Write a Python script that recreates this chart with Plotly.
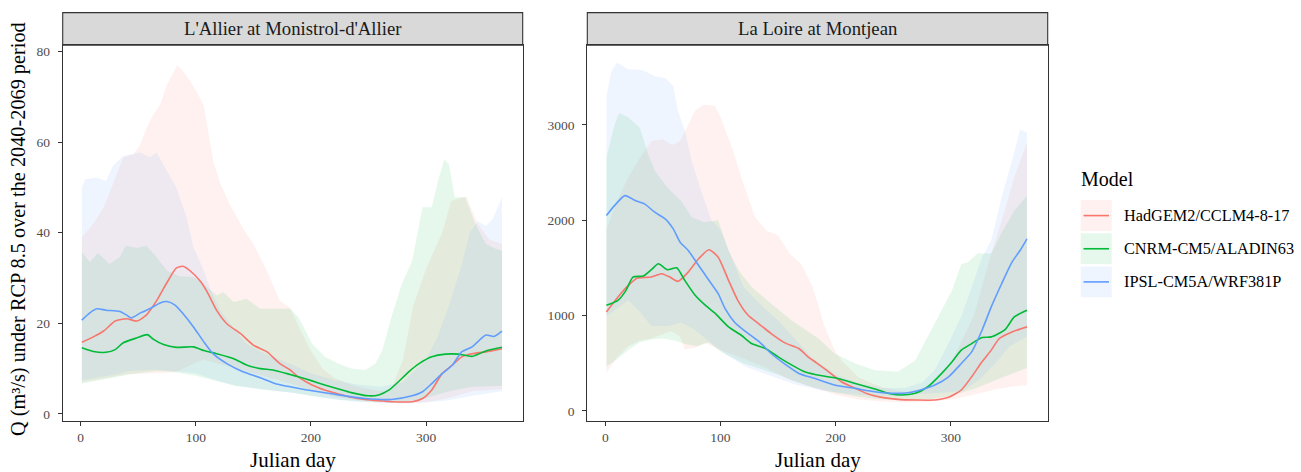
import plotly.graph_objects as go

# ---------------- DATA ----------------
models = ["HadGEM2/CCLM4-8-17", "CNRM-CM5/ALADIN63", "IPSL-CM5A/WRF381P"]
x_ticks = [0, 100, 200, 300]
allier_y_ticks = [0, 20, 40, 60, 80]
loire_y_ticks = [0, 1000, 2000, 3000]
panel_titles = ["L'Allier at Monistrol-d'Allier", "La Loire at Montjean"]

# --- L'Allier at Monistrol-d'Allier : median lines ---
allier_had_days = [1, 11, 20, 30, 40, 49, 57, 66, 75, 83, 89, 95, 104, 110, 118, 127, 139, 150, 162, 173, 182, 189, 201, 212, 224, 235, 247, 259, 270, 288, 297, 305, 314, 323, 331, 340, 352, 366]
allier_had_med = [15.8, 17, 18.3, 20.5, 21, 20.5, 21.8, 25, 29, 32.2, 32.6, 31.6, 29.3, 26.9, 22.9, 19.9, 17.7, 15.2, 13.7, 11.1, 9.7, 8.2, 6.4, 5.3, 4.4, 3.7, 3.2, 2.9, 2.7, 2.7, 3.4, 5.3, 8.9, 10.8, 12.6, 13.3, 13.7, 14.4]
allier_cnrm_days = [1, 11, 22, 30, 37, 49, 58, 63, 72, 83, 98, 107, 118, 133, 144, 156, 167, 182, 189, 201, 212, 224, 235, 250, 259, 268, 276, 285, 294, 305, 317, 328, 340, 352, 366]
allier_cnrm_med = [14.6, 13.8, 13.6, 14.2, 15.7, 16.8, 17.5, 16.5, 15.3, 14.7, 14.8, 14, 13.3, 12.2, 10.8, 10, 9.7, 8.7, 8.2, 7.3, 6.4, 5.5, 4.7, 4.0, 4.2, 5.3, 7.1, 9.3, 11.1, 12.6, 13.2, 13.2, 12.7, 13.9, 14.7]
allier_ipsl_days = [1, 8, 14, 22, 34, 40, 44, 52, 60, 69, 75, 82, 89, 98, 107, 115, 127, 141, 156, 170, 182, 201, 224, 247, 270, 288, 297, 305, 314, 323, 331, 340, 352, 359, 366]
allier_ipsl_med = [20.7, 22.3, 23.2, 22.9, 22.6, 21.8, 21.2, 22.3, 23.2, 24.5, 24.8, 24, 22.1, 19.2, 15.9, 13.3, 11.1, 9.3, 8, 6.6, 6, 5.1, 4.2, 3.4, 3.2, 4, 4.9, 6.7, 8.9, 10.8, 13.7, 14.8, 17.4, 17.1, 18.3]

# --- L'Allier : envelopes (min / max) ---
allier_had_hi_days = [1, 11, 20, 28, 37, 46, 52, 57, 63, 69, 75, 81, 84, 89, 95, 101, 107, 115, 121, 130, 141, 150, 162, 173, 182, 190, 200, 210, 220, 240, 260, 270, 280, 289, 300, 314, 322, 335, 345, 355, 366]
allier_had_hi = [39, 42, 45.6, 50.7, 56.6, 57.3, 59.5, 63, 66, 68.3, 72.7, 75.5, 77, 75.6, 73.5, 71, 68, 56, 51, 46, 41, 37.5, 31.5, 25, 23.4, 19, 14, 10, 8, 6, 5, 5.5, 12, 24, 32, 40, 47, 48, 42, 38.5, 37.5]
allier_had_lo_days = [1, 13, 30, 42, 65, 82, 106, 129, 158, 184, 200, 220, 240, 260, 280, 300, 320, 340, 366]
allier_had_lo = [7, 7.5, 8.3, 8.8, 9.0, 9.2, 12, 10.4, 8.4, 6.6, 5.2, 3.8, 3.0, 2.6, 2.4, 2.6, 3.5, 5, 5.5]
allier_cnrm_hi_days = [1, 8, 15, 25, 34, 39, 49, 57, 66, 75, 86, 98, 107, 118, 124, 133, 144, 156, 182, 189, 195, 201, 212, 224, 235, 247, 256, 262, 270, 279, 288, 297, 305, 311, 316, 320, 325, 334, 343, 352, 360, 366]
allier_cnrm_hi = [35.7, 33.5, 35.5, 33.1, 34.6, 37.1, 36.6, 37.1, 34.6, 31.6, 30.4, 30.2, 28.7, 26.2, 26.9, 24.7, 25.4, 23.2, 23.2, 21.4, 18.5, 15.5, 12.6, 11.1, 10, 9.7, 11.1, 14, 21.4, 28.7, 33.8, 45.6, 45.6, 52, 56.2, 55, 47.8, 47.8, 41.9, 37.5, 36.5, 36]
allier_cnrm_lo_days = [1, 13, 30, 42, 65, 80, 100, 117, 134, 158, 184, 200, 220, 240, 260, 280, 300, 320, 340, 366]
allier_cnrm_lo = [6.7, 7.3, 8, 8.7, 9.5, 9.3, 8.4, 7.3, 6.2, 5.4, 4.7, 4.0, 3.3, 2.8, 2.6, 2.6, 3.5, 5, 6, 6.2]
allier_ipsl_hi_days = [1, 4, 14, 22, 28, 37, 52, 60, 66, 75, 83, 92, 98, 107, 113, 121, 130, 144, 162, 182, 200, 220, 240, 260, 280, 300, 310, 320, 330, 338, 345, 352, 358, 366]
allier_ipsl_hi = [50, 51.8, 52.2, 51.4, 54.7, 56.9, 57.7, 56.6, 57.7, 53.6, 50, 43.4, 36.8, 31.6, 27.3, 22.9, 19.9, 15.5, 13, 11.1, 9, 7.5, 6.5, 6, 7, 12, 17, 24, 32, 40, 42.5, 41.5, 43, 47.8]
allier_ipsl_lo_days = [1, 13, 30, 42, 65, 80, 100, 117, 134, 158, 184, 200, 220, 240, 260, 280, 300, 320, 340, 366]
allier_ipsl_lo = [7.5, 8, 8.7, 9.5, 9.8, 9.5, 9, 7.5, 6.3, 5.4, 4.7, 4.0, 3.2, 2.7, 2.4, 2.3, 2.5, 3, 4, 5]

# --- La Loire at Montjean : median lines ---
loire_had_days = [1, 11, 20, 28, 40, 49, 56, 63, 72, 81, 90, 98, 107, 115, 124, 133, 144, 156, 168, 176, 182, 194, 205, 217, 228, 240, 254, 269, 286, 298, 309, 318, 327, 335, 342, 353, 366]
loire_had_med = [1038, 1195, 1317, 1394, 1404, 1439, 1404, 1359, 1456, 1596, 1690, 1613, 1369, 1160, 1003, 916, 812, 714, 655, 568, 516, 411, 307, 237, 178, 143, 122, 115, 115, 143, 220, 359, 516, 638, 760, 829, 882]
loire_cnrm_days = [1, 11, 18, 24, 33, 40, 46, 54, 62, 69, 78, 86, 95, 107, 118, 127, 139, 150, 162, 173, 182, 199, 217, 234, 246, 257, 269, 280, 292, 301, 309, 318, 327, 335, 347, 355, 366]
loire_cnrm_med = [1108, 1160, 1265, 1404, 1415, 1481, 1544, 1481, 1502, 1369, 1213, 1118, 1028, 882, 794, 707, 655, 568, 481, 411, 383, 348, 289, 230, 185, 167, 185, 254, 394, 516, 638, 707, 770, 777, 854, 986, 1056]
loire_ipsl_days = [1, 8, 17, 26, 34, 43, 52, 59, 65, 72, 81, 89, 98, 104, 112, 121, 133, 144, 156, 168, 182, 199, 217, 234, 251, 263, 275, 286, 298, 309, 318, 327, 335, 344, 353, 360, 366]
loire_ipsl_med = [2049, 2153, 2258, 2206, 2171, 2084, 2014, 1909, 1770, 1683, 1526, 1387, 1230, 1073, 934, 840, 732, 603, 491, 394, 341, 272, 237, 202, 185, 192, 226, 272, 359, 498, 620, 847, 1091, 1334, 1561, 1683, 1805]

# --- La Loire : envelopes (min / max) ---
loire_had_hi_days = [1, 10, 20, 30, 40, 50, 58, 65, 72, 78, 85, 95, 100, 110, 118, 130, 140, 150, 160, 170, 180, 190, 199, 205, 220, 240, 260, 280, 300, 320, 335, 345, 355, 366]
loire_had_hi = [1900, 2200, 2450, 2650, 2830, 2850, 2790, 2830, 3000, 3150, 3210, 3200, 3080, 2760, 2450, 2030, 1890, 1840, 1650, 1540, 1300, 900, 640, 530, 350, 250, 200, 250, 500, 1000, 1650, 2030, 2450, 2815]
loire_had_lo_days = [1, 10, 20, 30, 40, 50, 57, 65, 69, 78, 87, 100, 120, 140, 160, 180, 200, 220, 240, 260, 280, 300, 320, 340, 355, 366]
loire_had_lo = [400, 560, 680, 740, 760, 800, 835, 780, 644, 662, 714, 640, 550, 450, 330, 250, 170, 120, 100, 90, 95, 120, 170, 230, 260, 270]
loire_cnrm_hi_days = [1, 8, 12, 20, 30, 37, 43, 54, 66, 75, 86, 98, 107, 116, 127, 144, 162, 185, 199, 217, 234, 254, 269, 280, 292, 301, 309, 315, 323, 335, 345, 355, 366]
loire_cnrm_hi = [2656, 3000, 3125, 3080, 2970, 2700, 2520, 2340, 2200, 2030, 1980, 2000, 1680, 1470, 1300, 1125, 950, 760, 603, 498, 428, 411, 530, 780, 1060, 1265, 1540, 1560, 1650, 1650, 1890, 2100, 2256]
loire_cnrm_lo_days = [1, 10, 20, 30, 40, 50, 60, 70, 80, 90, 100, 110, 120, 135, 150, 165, 180, 200, 220, 240, 260, 280, 300, 320, 340, 355, 366]
loire_cnrm_lo = [470, 540, 640, 720, 750, 760, 740, 700, 680, 720, 620, 560, 500, 440, 380, 310, 250, 190, 150, 120, 110, 120, 160, 230, 330, 400, 450]
loire_ipsl_hi_days = [1, 5, 10, 15, 20, 30, 35, 43, 52, 59, 63, 69, 75, 84, 92, 100, 110, 120, 136, 150, 165, 180, 200, 220, 240, 260, 275, 286, 298, 309, 321, 327, 335, 344, 353, 360, 366]
loire_ipsl_hi = [3300, 3550, 3650, 3620, 3580, 3580, 3560, 3510, 3490, 3410, 3150, 2940, 2620, 2280, 2000, 1900, 1600, 1300, 1100, 950, 750, 550, 380, 290, 240, 240, 300, 430, 710, 990, 1400, 1610, 1790, 2240, 2620, 2950, 2920]
loire_ipsl_lo_days = [1, 20, 30, 40, 55, 66, 78, 92, 107, 121, 136, 164, 190, 220, 250, 280, 300, 310, 325, 339, 351, 366]
loire_ipsl_lo = [990, 1160, 1040, 890, 890, 930, 850, 710, 575, 470, 400, 280, 210, 170, 160, 180, 200, 210, 330, 505, 680, 780]

# ---------------- STYLE / LAYOUT ----------------
W, H = 1301, 472
colors = [(248, 118, 109), (0, 186, 56), (97, 156, 255)]
FONT = "Liberation Serif"


def fx(px):
    return px / W


def fy(py):
    return 1 - py / H


panel_x = [(62.7, 522.7), (587.3, 1047.7)]
panel_top, panel_bot = 44.3, 421.7
strip_top = 11.7

fig = go.Figure()

panels = [
    dict(xa="x", ya="y",
         ribbons=[(allier_had_lo_days, allier_had_lo, allier_had_hi_days, allier_had_hi),
                  (allier_cnrm_lo_days, allier_cnrm_lo, allier_cnrm_hi_days, allier_cnrm_hi),
                  (allier_ipsl_lo_days, allier_ipsl_lo, allier_ipsl_hi_days, allier_ipsl_hi)],
         lines=[(allier_had_days, allier_had_med), (allier_cnrm_days, allier_cnrm_med),
                (allier_ipsl_days, allier_ipsl_med)]),
    dict(xa="x2", ya="y2",
         ribbons=[(loire_had_lo_days, loire_had_lo, loire_had_hi_days, loire_had_hi),
                  (loire_cnrm_lo_days, loire_cnrm_lo, loire_cnrm_hi_days, loire_cnrm_hi),
                  (loire_ipsl_lo_days, loire_ipsl_lo, loire_ipsl_hi_days, loire_ipsl_hi)],
         lines=[(loire_had_days, loire_had_med), (loire_cnrm_days, loire_cnrm_med),
                (loire_ipsl_days, loire_ipsl_med)]),
]

for p in panels:
    for (ld, lv, hd, hv), c, m in zip(p["ribbons"], colors, models):
        fig.add_trace(go.Scatter(
            x=list(ld) + list(hd)[::-1], y=list(lv) + list(hv)[::-1],
            xaxis=p["xa"], yaxis=p["ya"], mode="lines", fill="toself",
            fillcolor="rgba(%d,%d,%d,0.1)" % c, line=dict(width=0),
            hoverinfo="skip", showlegend=False, name=m))
    for (d, v), c, m in zip(p["lines"], colors, models):
        fig.add_trace(go.Scatter(
            x=d, y=v, xaxis=p["xa"], yaxis=p["ya"], mode="lines",
            line=dict(color="rgb(%d,%d,%d)" % c, width=1.6, shape="spline", smoothing=0.6),
            showlegend=False, name=m))

axis_common = dict(showgrid=False, zeroline=False, showline=True, mirror=True,
                   linecolor="#333333", linewidth=1.1, ticks="outside", ticklen=4,
                   tickcolor="#333333", tickwidth=1.1,
                   tickfont=dict(family=FONT, size=13.5, color="#4D4D4D"))

ydom = [fy(panel_bot), fy(panel_top)]
fig.update_layout(
    width=W, height=H, margin=dict(l=0, r=0, t=0, b=0),
    paper_bgcolor="white", plot_bgcolor="white", showlegend=False,
    font=dict(family=FONT),
    xaxis=dict(domain=[fx(panel_x[0][0]), fx(panel_x[0][1])], range=[-15.6, 384.0],
               tickvals=x_ticks, anchor="y", **axis_common),
    yaxis=dict(domain=ydom, range=[-1.54, 81.4], tickvals=allier_y_ticks, anchor="x",
               ticklabelstandoff=5, **axis_common),
    xaxis2=dict(domain=[fx(panel_x[1][0]), fx(panel_x[1][1])], range=[-15.6, 384.0],
                tickvals=x_ticks, anchor="y2", **axis_common),
    yaxis2=dict(domain=ydom, range=[-104, 3836], tickvals=loire_y_ticks, anchor="x2",
                ticklabelstandoff=5, **axis_common),
)

shapes = []
annotations = []
for (x0, x1), title in zip(panel_x, panel_titles):
    shapes.append(dict(type="rect", xref="paper", yref="paper", x0=fx(x0), x1=fx(x1),
                       y0=fy(panel_top), y1=fy(strip_top), fillcolor="#D9D9D9",
                       line=dict(color="#333333", width=1.1), layer="below"))
    annotations.append(dict(text=title, xref="paper", yref="paper", x=fx((x0 + x1) / 2),
                            y=fy((panel_top + strip_top) / 2), showarrow=False,
                            xanchor="center", yanchor="middle",
                            font=dict(family=FONT, size=18.7, color="#1A1A1A")))
    annotations.append(dict(text="Julian day", xref="paper", yref="paper", x=fx((x0 + x1) / 2),
                            y=fy(461), showarrow=False, xanchor="center", yanchor="middle",
                            font=dict(family=FONT, size=21, color="black")))

annotations.append(dict(text="Q (m³/s) under RCP 8.5 over the 2040-2069 period", xref="paper",
                        yref="paper", x=fx(18), y=fy(229), textangle=-90,
                        showarrow=False, xanchor="center", yanchor="middle",
                        font=dict(family=FONT, size=20.3, color="black")))

# legend (drawn manually, ggplot-style keys)
annotations.append(dict(text="Model", xref="paper", yref="paper", x=fx(1079), y=fy(179),
                        showarrow=False, xanchor="left", yanchor="middle",
                        font=dict(family=FONT, size=20, color="black")))
key_tops = [200.0, 233.3, 266.6]
for kt, c, m in zip(key_tops, colors, models):
    shapes.append(dict(type="rect", xref="paper", yref="paper", x0=fx(1080.7), x1=fx(1111.7),
                       y0=fy(kt + 31), y1=fy(kt), fillcolor="rgba(%d,%d,%d,0.1)" % c,
                       line=dict(width=0)))
    shapes.append(dict(type="line", xref="paper", yref="paper", x0=fx(1083.5), x1=fx(1109),
                       y0=fy(kt + 15.5), y1=fy(kt + 15.5),
                       line=dict(color="rgb(%d,%d,%d)" % c, width=1.6)))
    annotations.append(dict(text=m, xref="paper", yref="paper", x=fx(1122), y=fy(kt + 15.5),
                            showarrow=False, xanchor="left", yanchor="middle",
                            font=dict(family=FONT, size=16.3, color="black")))

fig.update_layout(shapes=shapes, annotations=annotations)
fig.write_html("out.html", config={"displayModeBar": False},
               post_script="document.body.style.margin='0px';")
